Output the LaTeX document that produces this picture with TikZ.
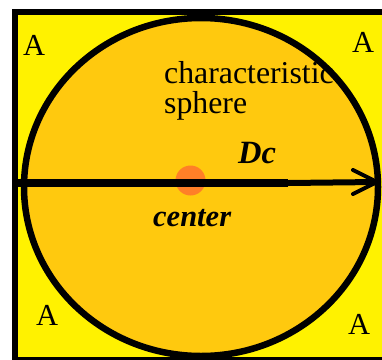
\documentclass[tikz,border=0pt]{standalone}
\usepackage{fontspec}
\setmainfont{Liberation Serif}
\definecolor{bgyellow}{RGB}{255,242,0}
\definecolor{gold}{RGB}{255,201,14}
\definecolor{dotorange}{RGB}{255,127,39}
\tikzset{
  lbl/.style={inner sep=0pt, anchor=base west, font=\fontsize{30.5}{32}\selectfont},
  big/.style={inner sep=0pt, anchor=base west, font=\fontsize{31.8}{32}\selectfont},
  emph/.style={inner sep=0pt, anchor=base west, font=\fontsize{30.5}{32}\selectfont\bfseries\itshape},
}
\begin{document}
\begin{tikzpicture}[x=1pt,y=-1pt]
\useasboundingbox (0,0) rectangle (382,359);
\clip (0,0) rectangle (382,359);
\fill[white] (0,0) rectangle (382,359);
% square
\draw[line width=6.5pt, fill=bgyellow] (15,12) rectangle (400,360);
% sphere
\draw[line width=6.5pt, fill=gold] (201,187) ellipse [x radius=177, y radius=169];
% center dot
\fill[dotorange] (190.5,180.5) circle [radius=15];
\coordinate (c) at (190.5,180.5);
% arrow
\coordinate (l) at (18,183);
\coordinate (m) at (288,183);
\coordinate (tip) at (377,182);
\draw[line width=7.5pt] (l) -- (m);
\draw[line width=6pt] (m) -- (tip);
\draw[line width=4pt, line cap=round, line join=miter] ([shift={(-24,-12)}]tip) -- (tip) -- ([shift={(-24,12)}]tip);
% labels
\node[lbl] (a1) at (23,55) {A};
\node[lbl] (a2) at (352,52) {A};
\node[lbl] (a3) at (36,325) {A};
\node[lbl] (a4) at (348,334) {A};
\node[big] (t1) at (164,83) {characteristic};
\node[big] (t2) at (164,113) {sphere};
\node[emph, font=\fontsize{32.5}{33}\selectfont\bfseries\itshape] (dc) at (238,163) {Dc};
\node[emph] (ce) at (153,226) {center};
\end{tikzpicture}
\end{document}
